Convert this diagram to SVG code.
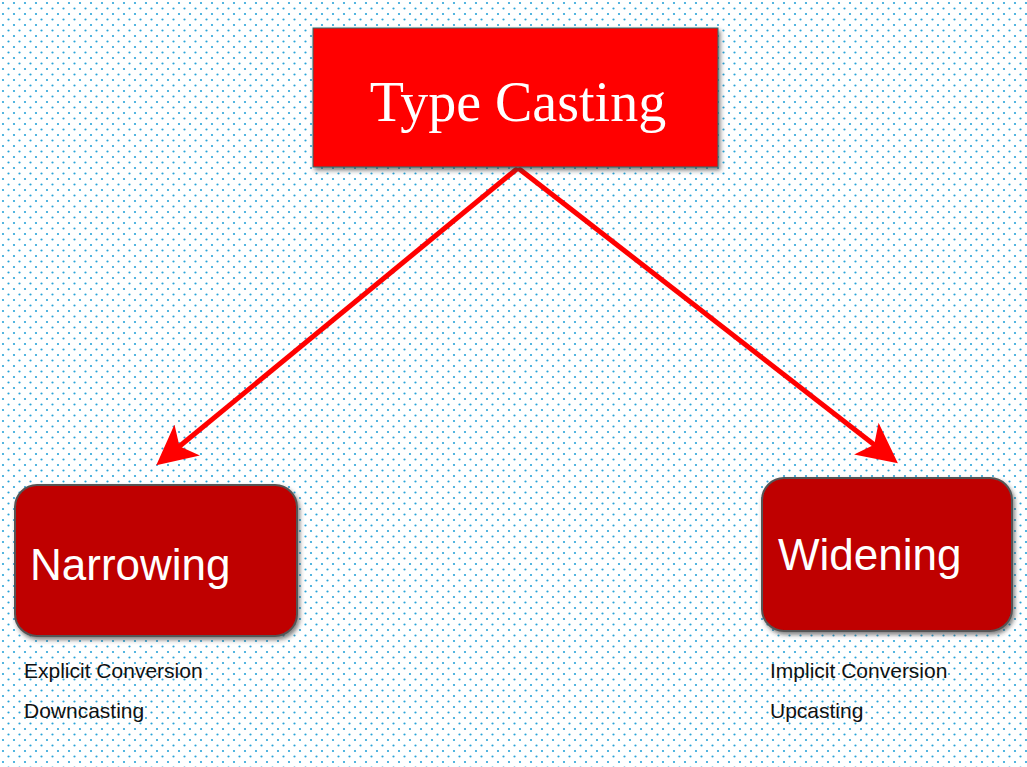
<svg xmlns="http://www.w3.org/2000/svg" width="1027" height="767" viewBox="0 0 1027 767">
<defs>
<pattern id="dots" width="11" height="11" patternUnits="userSpaceOnUse">
<circle cx="3" cy="3" r="1.1" fill="#2aa3d8"/>
<circle cx="8.5" cy="8.5" r="1.1" fill="#2aa3d8"/>
</pattern>
<marker id="ah" markerWidth="8" markerHeight="8" refX="6" refY="4" orient="auto" markerUnits="strokeWidth">
<path d="M0,0 L8,4 L0,8 L2,4 Z" fill="#f00"/>
</marker>
<filter id="sh" x="-10%" y="-10%" width="125%" height="130%">
<feDropShadow dx="2" dy="3" stdDeviation="2" flood-color="#333" flood-opacity="0.6"/>
</filter>
</defs>
<style>
.cap{font-family:"Liberation Sans",Arial,sans-serif;font-size:21px;fill:#111}
.lbl{font-family:"Liberation Sans",Arial,sans-serif;font-size:44px;fill:#fff}
.rb{fill:#bf0000;stroke:#555;stroke-width:2;filter:url(#sh)}
</style>
<rect width="1027" height="767" fill="#fff"/>
<rect width="1027" height="767" fill="url(#dots)"/>
<g id="connectors" stroke="#f00" stroke-width="5" fill="none">
<line x1="518" y1="168" x2="164" y2="459" marker-end="url(#ah)"/>
<line x1="518" y1="168" x2="890" y2="457" marker-end="url(#ah)"/>
</g>
<g id="typecasting">
<rect x="313" y="28" width="405" height="139" fill="#f00" stroke="#2a6e6e" stroke-width="1" filter="url(#sh)"/>
<text x="518" y="121" text-anchor="middle" font-family="Liberation Serif,serif" font-size="56" fill="#fff">Type Casting</text>
</g>
<g id="narrowing">
<rect class="rb" x="15" y="485" width="282" height="151" rx="22"/>
<text class="lbl" x="30" y="580">Narrowing</text>
<text class="cap" x="24" y="678">Explicit Conversion</text>
<text class="cap" x="24" y="718">Downcasting</text>
</g>
<g id="widening">
<rect class="rb" x="762" y="478" width="250" height="153" rx="22"/>
<text class="lbl" x="778" y="570">Widening</text>
<text class="cap" x="770" y="678">Implicit Conversion</text>
<text class="cap" x="770" y="718">Upcasting</text>
</g>
</svg>
